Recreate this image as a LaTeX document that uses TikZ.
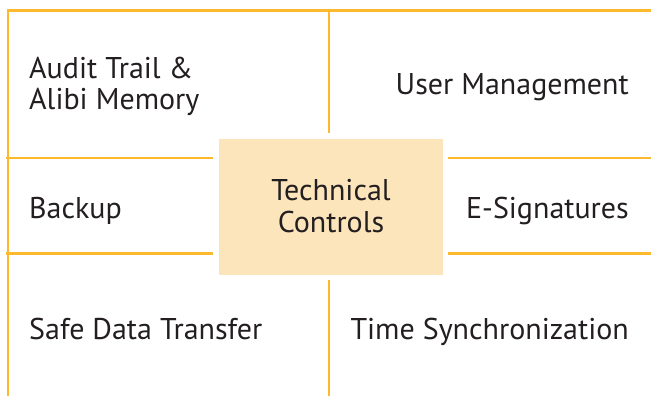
\documentclass[tikz,border=0pt]{standalone}
\usepackage{fontspec}
\setmainfont{PT Sans}
\definecolor{lineor}{HTML}{FDB92E}
\definecolor{boxfill}{HTML}{FDE5BB}
\definecolor{txt}{HTML}{231F20}
\begin{document}
\begin{tikzpicture}[x=1pt,y=-1pt,
  grid/.style={draw=lineor,line width=2.2pt},
  lbl/.style={font=\fontsize{30}{31.5}\selectfont,text=txt,inner sep=0pt},
  center/.style={fill=boxfill,inner sep=0pt,minimum width=224pt,minimum height=136pt,anchor=north west}]
\useasboundingbox (0,0) rectangle (651,396);
% grid lines
\coordinate (tl) at (8,10.5);
\coordinate (tr) at (651,10.5);
\coordinate (bl) at (8,396);
\coordinate (mt) at (329,10.5);
\coordinate (mb) at (329,133);
\coordinate (h1l) at (6,158);
\coordinate (h1m) at (213,158);
\coordinate (h1r) at (448,158);
\coordinate (h1e) at (651,158);
\coordinate (h2l) at (6,253.5);
\coordinate (h2m) at (213,253.5);
\coordinate (h2r) at (448,253.5);
\coordinate (h2e) at (651,253.5);
\coordinate (vt) at (329,280);
\coordinate (vb) at (329,396);
\draw[grid] (tr) -- (tl) -- (bl);
\draw[grid] (mt) -- (mb);
\draw[grid] (h1l) -- (h1m);
\draw[grid] (h1r) -- (h1e);
\draw[grid] (h2l) -- (h2m);
\draw[grid] (h2r) -- (h2e);
\draw[grid] (vt) -- (vb);
\node[center] (tc) at (219,139) {};
\node[lbl,align=center,anchor=base] (tct) at (331,232) {Technical\\Controls};
\node[lbl,align=left,anchor=base west] (audit) at (29,110) {Audit Trail \&\\Alibi Memory};
\node[lbl,anchor=base east] (user) at (629,95) {User Management};
\node[lbl,anchor=base west] (backup) at (29,218) {Backup};
\node[lbl,anchor=base east] (esig) at (629,218) {E-Signatures};
\node[lbl,anchor=base west] (safe) at (29,339) {Safe Data Transfer};
\node[lbl,anchor=base east] (time) at (629,339) {Time Synchronization};
\end{tikzpicture}
\end{document}
